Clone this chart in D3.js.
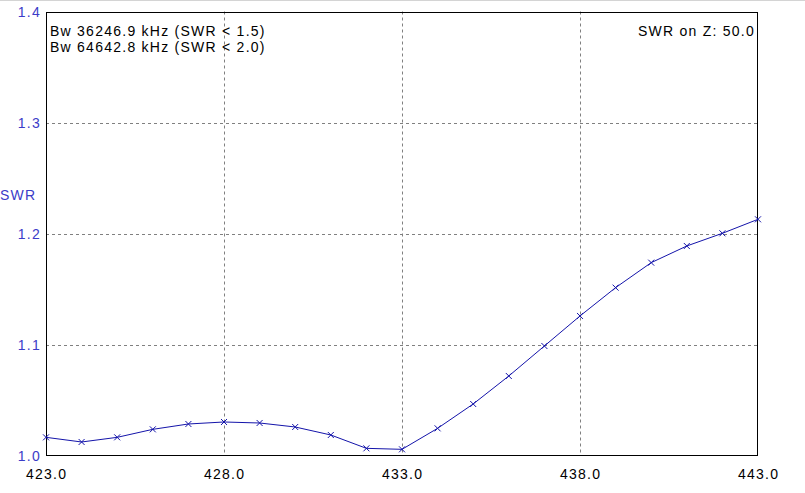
<!DOCTYPE html>
<html><head><meta charset="utf-8">
<script src="https://cdn.jsdelivr.net/npm/d3@7"></script>
<style>body{margin:0;background:#fff}svg{display:block}text{font-family:"Liberation Sans",Arial,sans-serif;letter-spacing:1.25px}</style>
</head><body>
<svg id="c" width="805" height="493"></svg>
<script>
const freqs = [423,424,425,426,427,428,429,430,431,432,433,434,435,436,437,438,439,440,441,442,443];
const swr = [1.0168,1.0126,1.0168,1.024,1.0288,1.0306,1.0297,1.0261,1.0189,1.0069,1.006,1.0249,1.0468,1.072,1.099,1.126,1.1515,1.174,1.189,1.2004,1.213];
const xTicks = [423,428,433,438,443];
const yTicks = [1.0,1.1,1.2,1.3,1.4];
const infoLines = ["Bw 36246.9 kHz (SWR < 1.5)","Bw 64642.8 kHz (SWR < 2.0)"];
const zLabel = "SWR on Z: 50.0";
const yLabel = "SWR";

const svg = d3.select("#c");
const L=46, R=758, T=11.5, B=456;
const x = d3.scaleLinear().domain([423,443]).range([L,R]);
const y = d3.scaleLinear().domain([1.0,1.4]).range([B,T]);

svg.append("line").attr("x1",0).attr("x2",805).attr("y1",0.5).attr("y2",0.5).attr("stroke","#d4d4d4");

// grid
const g = svg.append("g");
g.selectAll("line.vx").data(xTicks.slice(1,-1)).join("line")
  .attr("x1",d=>Math.round(x(d))+0.5).attr("x2",d=>Math.round(x(d))+0.5)
  .attr("y1",T).attr("y2",B).attr("stroke","#808080").attr("stroke-dasharray","3,3");
g.selectAll("line.hy").data(yTicks.slice(1,-1)).join("line")
  .attr("y1",d=>Math.round(y(d))+0.5).attr("y2",d=>Math.round(y(d))+0.5)
  .attr("x1",L).attr("x2",R).attr("stroke","#808080").attr("stroke-dasharray","3,3");

// border
svg.append("rect").attr("x",L+0.5).attr("y",Math.round(T)+0.5).attr("width",R-L-1).attr("height",B-Math.round(T)-1)
  .attr("fill","none").attr("stroke","#000");

// axes labels
svg.selectAll("text.yt").data(yTicks).join("text")
  .attr("x",41).attr("y",d=>y(d)+5).attr("text-anchor","end")
  .attr("font-size",14).attr("fill","#3c3cc8").text(d=>d.toFixed(1));
svg.selectAll("text.xt").data(xTicks).join("text")
  .attr("x",d=>x(d)+0.6).attr("y",479).attr("text-anchor","middle")
  .attr("font-size",14).attr("fill","#000").text(d=>d.toFixed(1));
svg.append("text").attr("x",0).attr("y",200).attr("font-size",14).attr("fill","#3c3cc8").text(yLabel);

// info text
svg.selectAll("text.info").data(infoLines).join("text")
  .attr("x",50).attr("y",(d,i)=>35.5+i*16).attr("font-size",14).attr("fill","#000").text(d=>d);
svg.append("text").attr("x",755).attr("y",35.5).attr("text-anchor","end").attr("font-size",14).attr("fill","#000").text(zLabel);

// line
const pts = freqs.map((f,i)=>[f,swr[i]]);
svg.append("path").datum(pts).attr("fill","none").attr("stroke","#1414aa").attr("stroke-width",1)
  .attr("d",d3.line().x(d=>x(d[0])).y(d=>y(d[1])));
const m = svg.append("g").attr("stroke","#1414aa").attr("stroke-width",1);
pts.forEach(p=>{
  const cx=x(p[0]), cy=y(p[1]);
  m.append("line").attr("x1",cx-3).attr("y1",cy-3).attr("x2",cx+3).attr("y2",cy+3);
  m.append("line").attr("x1",cx-3).attr("y1",cy+3).attr("x2",cx+3).attr("y2",cy-3);
});
</script>
</body></html>
